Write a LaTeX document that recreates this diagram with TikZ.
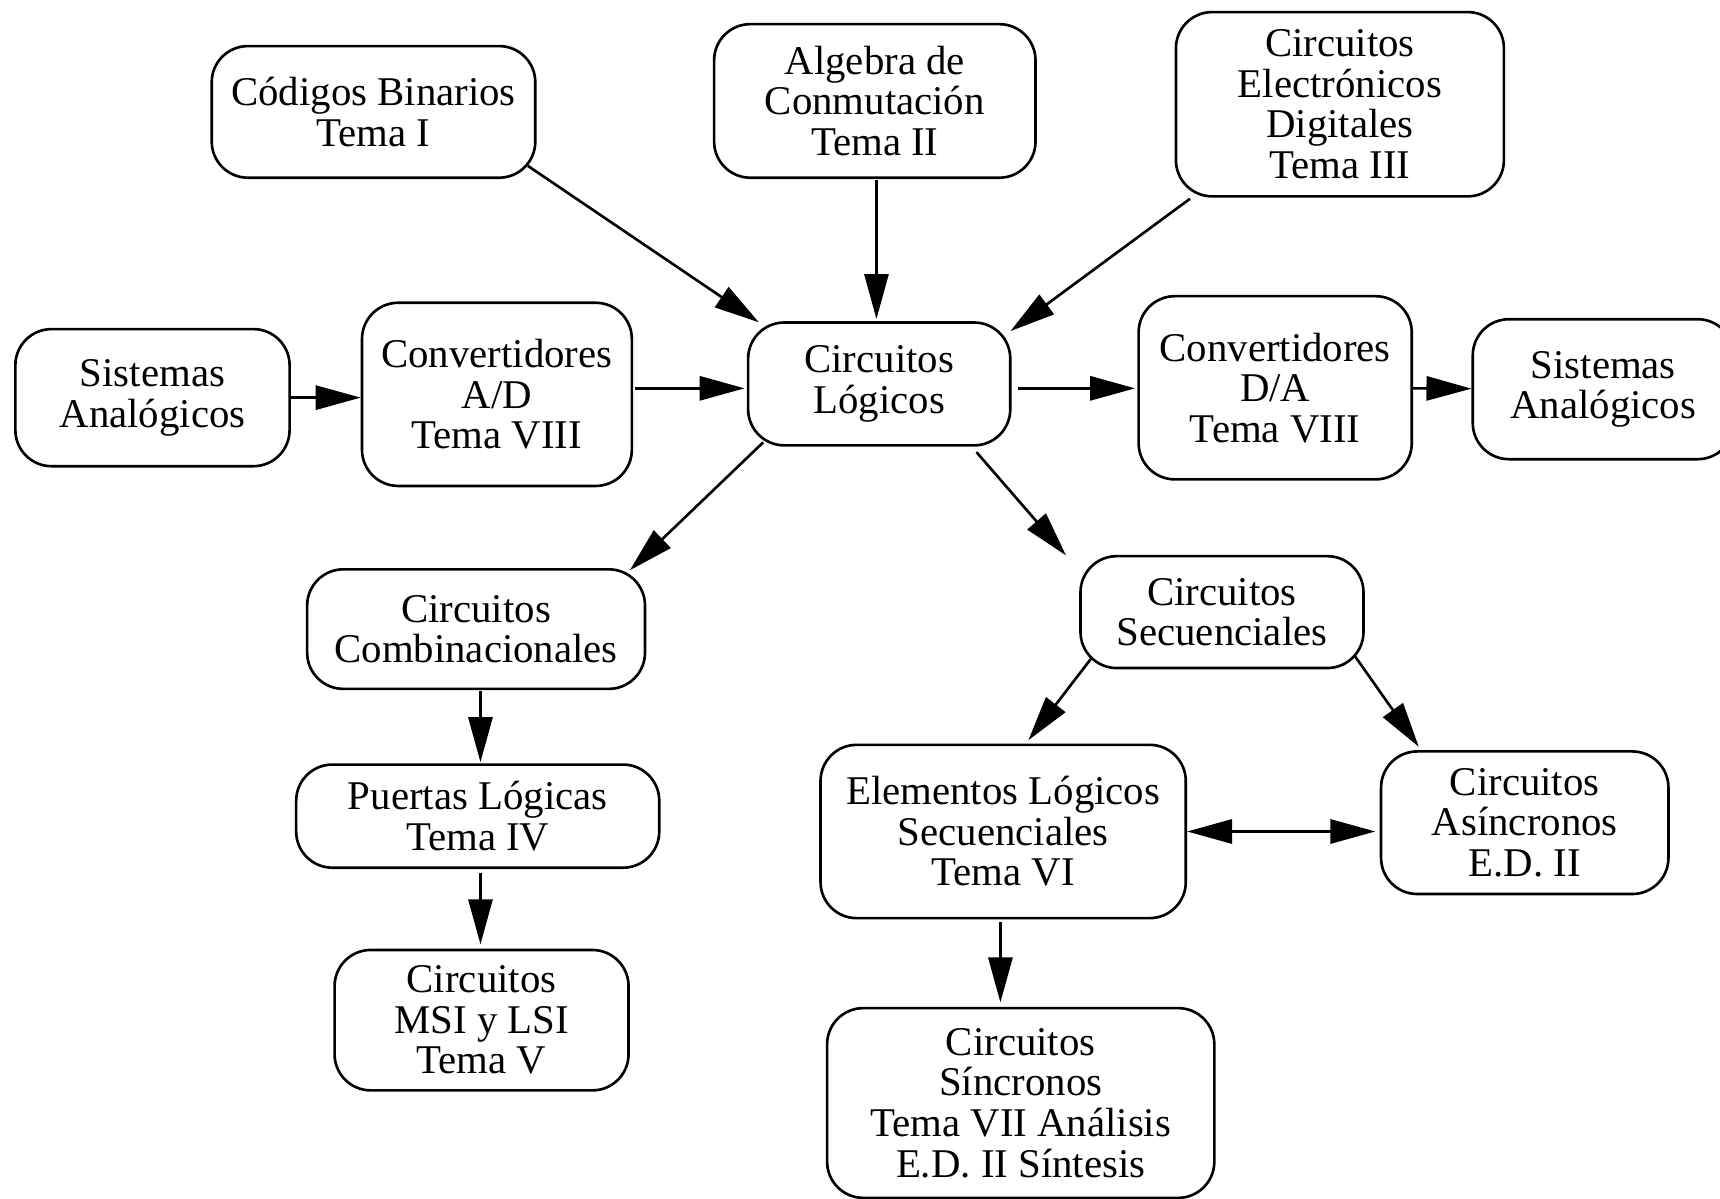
\documentclass[tikz,border=0pt]{standalone}
\usepackage{fontspec}
\setmainfont{Liberation Serif}
\usetikzlibrary{arrows.meta,calc}
\begin{document}
\begin{tikzpicture}[x=1pt,y=-1pt,
  box/.style={draw, line width=2.4pt, rounded corners=33pt, align=center,
    inner sep=0pt, font=\fontsize{37.2pt}{37pt}\selectfont},
  arr/.style={line width=2.4pt, -{Triangle[length=41pt,width=22pt]}},
  darr/.style={line width=2.4pt, {Triangle[length=41pt,width=22pt]}-{Triangle[length=41pt,width=22pt]}}]
\path[use as bounding box] (0,0) rectangle (1568,1093);
\clip (0,0) rectangle (1568,1093);

\node[box, minimum width=295pt, minimum height=120pt] (A) at (340.5,102) {Códigos Binarios\\Tema I};
\node[box, minimum width=293pt, minimum height=140pt] (B) at (797.5,92) {Algebra de\\Conmutación\\Tema II};
\node[box, minimum width=299pt, minimum height=168pt] (C) at (1221.5,95) {Circuitos\\Electrónicos\\Digitales\\Tema III};
\node[box, minimum width=250pt, minimum height=125pt] (D) at (139,362.5) {Sistemas\\Analógicos};
\node[box, minimum width=246pt, minimum height=167pt] (E) at (453,359.5) {Convertidores\\A/D\\Tema VIII};
\node[box, minimum width=239pt, minimum height=112pt] (F) at (801.5,350) {Circuitos\\Lógicos};
\node[box, minimum width=249pt, minimum height=167pt] (G) at (1162.5,353.5) {Convertidores\\D/A\\Tema VIII};
\node[box, minimum width=238pt, minimum height=127.6pt] (H) at (1461.6,354.8) {Sistemas\\Analógicos};
\node[box, minimum width=308pt, minimum height=109pt] (I) at (434,573.5) {Circuitos\\Combinacionales};
\node[box, minimum width=331pt, minimum height=94pt] (J) at (435.5,744) {Puertas Lógicas\\Tema IV};
\node[box, minimum width=268pt, minimum height=128pt] (K) at (439,930) {Circuitos\\MSI y LSI\\Tema V};
\node[box, minimum width=258pt, minimum height=102pt] (L) at (1114,558) {Circuitos\\Secuenciales};
\node[box, minimum width=333pt, minimum height=158pt] (M) at (914.5,758) {Elementos Lógicos\\Secuenciales\\Tema VI};
\node[box, minimum width=262pt, minimum height=130pt] (N) at (1390,750) {Circuitos\\Asíncronos\\E.D. II};
\node[box, minimum width=353pt, minimum height=173pt] (O) at (930.5,1005.5) {Circuitos\\Síncronos\\Tema VII Análisis\\E.D. II Síntesis};

\draw[arr] ($(A.south east)+(-8,-12)$) -- ($(F.north west)+(11,1)$);
\draw[arr] ($(B.south)+(1.5,1)$) -- ($(F.north)+(-2.5,-2)$);
\draw[arr] ($(C.south west)+(14,1)$) -- ($(F.north east)+(-1,9)$);
\draw[arr] (D.east) -- (E.west |- D.east);
\draw[arr] ($(E.east)+(2,-5.5)$) -- ($(F.west)+(-2,4)$);
\draw[arr] ($(F.east)+(6,4)$) -- ($(G.west)+(-2,0.5)$);
\draw[arr] ($(G.east)+(0,0.5)$) -- ($(H.west)+(0,-0.5)$);
\draw[arr] ($(F.south west)+(15,-4)$) -- ($(I.north east)+(-15,2)$);
\draw[arr] ($(F.south east)+(-32,5)$) -- ($(L.north west)+(-12,0.5)$);
\draw[arr] ($(I.south)+(4,1)$) -- ($(J.north)+(2.5,-1)$);
\draw[arr] ($(J.south)+(2.5,4)$) -- ($(K.north)+(-1,-4)$);
\draw[arr] ($(L.south west)+(11,-10)$) -- ($(M.north)+(23,-3)$);
\draw[arr] ($(L.south east)+(-9,-12)$) -- ($(N.north west)+(35.6,-3)$);
\draw[darr] (M.east) -- ($(N.west)+(-4,8)$);
\draw[arr] ($(M.south)+(-2.5,2)$) -- ($(O.north)+(-18.5,-4)$);
\end{tikzpicture}
\end{document}
